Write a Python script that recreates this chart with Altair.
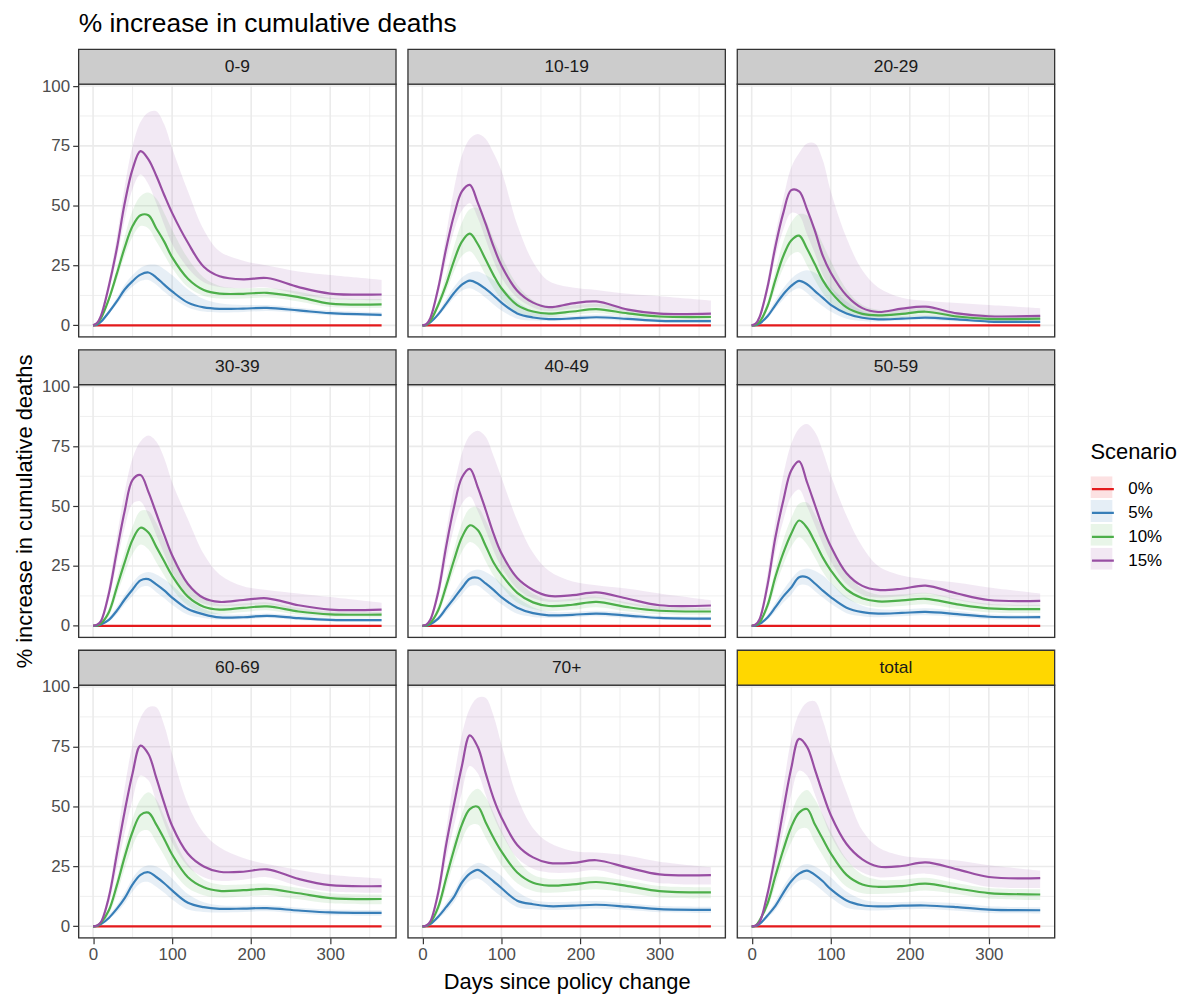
import altair as alt
import pandas as pd

FONT = "Liberation Sans"

# ---------------- data ----------------
DAYS = [0, 5, 10, 20, 30, 40, 50, 60, 70, 80, 90, 100, 120, 140, 160, 190, 220, 260, 300, 365]
SCENARIOS = ["0%", "5%", "10%", "15%"]
PANELS = ["0-9", "10-19", "20-29", "30-39", "40-49", "50-59", "60-69", "70+", "total"]
X_MAJOR = [0, 100, 200, 300]
X_MINOR = [50, 150, 250, 350]
Y_MAJOR = [0, 25, 50, 75, 100]
Y_MINOR = [12.5, 37.5, 62.5, 87.5]
ZERO = [0, 0, 0, 0, 0, 0, 0, 0, 0, 0, 0, 0, 0, 0, 0, 0, 0, 0, 0, 0]

# 0-9
g09_m15 = [0, 1, 4, 16.5, 32, 51, 65.3, 72.8, 69.4, 62.5, 54.5, 47, 34.5, 24.5, 20.5, 19.2, 19.8, 16, 13.3, 12.9]
g09_h15 = [0, 1.5, 5.5, 19, 37, 58, 75, 85, 89, 89.5, 84, 74, 56, 40, 31, 27, 25, 22.5, 21, 19]
g09_l15 = [0, 0.8, 3.5, 14, 28, 44, 57, 63, 59, 51, 42, 34, 24, 18, 16, 15.5, 15.8, 13, 11, 10.5]
g09_m10 = [0, 0.7, 3, 11, 21.5, 32.5, 41.5, 46, 46, 40.5, 35, 28.5, 19.5, 14.8, 13.3, 13.2, 13.6, 11.8, 9.1, 8.75]
g09_h10 = [0, 1, 3.5, 12, 24, 37, 48, 54, 55.5, 53, 47, 40, 28, 20, 16.5, 15.5, 15.6, 14, 11.5, 11]
g09_l10 = [0, 0.5, 2.5, 10, 19, 29, 37, 41.5, 40.5, 35, 29.5, 24, 16, 12.3, 11.2, 11.2, 11.6, 10, 7.7, 7.3]
g09_m5 = [0, 0.3, 1.5, 5.5, 10, 15, 18.5, 21.2, 22.1, 20, 17, 14.2, 9.5, 7.5, 6.9, 7, 7.3, 6.25, 5.1, 4.4]
g09_h5 = [0, 0.4, 1.8, 6.2, 11.5, 17, 21, 24, 25.3, 25.3, 23.5, 21, 15, 11, 9.2, 8.5, 8.5, 7.4, 6.2, 5.5]
g09_l5 = [0, 0.2, 1.2, 4.8, 8.8, 13, 16.2, 18.5, 19, 17, 14, 11.5, 7.5, 5.8, 5.4, 5.6, 6, 5.2, 4.2, 3.6]

# 10-19
g1019_m15 = [0, 0.5, 3, 15.5, 32, 46, 56, 58.7, 51.3, 42.5, 33, 25, 14.5, 9.5, 7.6, 9.2, 10, 6.6, 4.9, 4.9]
g1019_h15 = [0, 0.6, 3.5, 18, 38, 57, 71, 78, 80, 78, 72, 64.6, 42, 26.5, 18.5, 15.8, 14.8, 13.2, 12.2, 10.4]
g1019_l15 = [0, 0.4, 2.5, 13, 27, 39.5, 48, 51, 45, 36, 27, 20, 11.5, 7.5, 6, 7, 7.8, 5.5, 4, 3.8]
g1019_m10 = [0, 0.3, 1.8, 8.5, 17, 27, 35, 38.3, 34, 27.5, 21, 15.5, 8.5, 5.8, 4.9, 5.8, 6.8, 5, 3.7, 3.5]
g1019_h10 = [0, 0.4, 2.3, 10.5, 21, 33, 43, 48.5, 49, 44, 36, 29, 17, 10.5, 8, 8.3, 9, 7, 5.5, 5]
g1019_l10 = [0, 0.2, 1.4, 7, 14, 22.5, 29, 31, 27, 21, 15.5, 11, 5.5, 3.8, 3.5, 4.4, 5.2, 3.7, 2.6, 2.4]
g1019_m5 = [0, 0.2, 1.2, 4.6, 9, 13.5, 17, 18.7, 17.5, 15.2, 12.5, 9.5, 5, 3.3, 2.6, 2.9, 3.4, 2.7, 1.9, 1.8]
g1019_h5 = [0, 0.3, 1.5, 5.5, 11, 16, 20, 22, 22.5, 21, 19, 16, 10, 6, 4.3, 4, 4.5, 3.8, 2.8, 2.6]
g1019_l5 = [0, 0.1, 0.9, 3.8, 7.5, 11.5, 14.5, 15.5, 14, 11.5, 8.7, 6.2, 2.8, 2, 1.8, 2.1, 2.5, 1.9, 1.2, 1.1]

# 20-29
g2029_m15 = [0, 0.7, 3.5, 16, 33, 47, 56.5, 56, 48.5, 39.5, 29, 22, 12.5, 7.2, 5.6, 7, 7.8, 5, 3.8, 4]
g2029_h15 = [0, 0.9, 4.5, 19, 38, 53, 66, 72, 76, 76, 69, 56, 36.5, 23, 15.8, 11.5, 10.3, 9.4, 8.5, 7.2]
g2029_l15 = [0, 0.5, 2.8, 13.5, 28.5, 40, 47, 46, 38, 30, 21, 15.5, 7.5, 4.2, 3.5, 4.5, 5.2, 3.2, 2.2, 2.3]
g2029_m10 = [0, 0.3, 1.5, 8, 19, 29, 35.5, 37.5, 32, 25.5, 18.8, 14, 7.5, 4.8, 4.2, 4.8, 5.7, 3.7, 2.7, 2.8]
g2029_h10 = [0, 0.4, 2, 10, 23, 35, 43, 46.5, 46, 41, 34, 27, 15, 8.5, 6.5, 6.5, 7.3, 5.5, 4.5, 4.3]
g2029_l10 = [0, 0.2, 1, 6.5, 15.5, 24, 29.5, 30.5, 25, 19, 13.5, 9.5, 4.5, 2.8, 2.6, 3.3, 4, 2.5, 1.6, 1.8]
g2029_m5 = [0, 0.1, 0.8, 3.8, 8.5, 13, 16.5, 18.6, 17.2, 14.3, 11.5, 8.6, 5, 3.2, 2.5, 2.8, 3.2, 2.5, 1.6, 1.5]
g2029_h5 = [0, 0.2, 1.1, 5, 10.5, 15.5, 19.5, 22, 23, 22, 19.5, 16, 10, 6, 4, 3.8, 4.2, 3.5, 2.4, 2.3]
g2029_l5 = [0, 0.1, 0.6, 3, 7, 10.8, 14, 15.5, 13.5, 10.5, 8, 5.8, 2.8, 1.8, 1.6, 2, 2.4, 1.7, 1, 0.9]

# 30-39
g3039_m15 = [0, 0.5, 2, 13.5, 31, 48, 61, 63, 56, 47, 38, 29.5, 17.5, 11.6, 10, 10.8, 11.5, 8.6, 6.8, 6.8]
g3039_h15 = [0, 0.8, 3, 17, 37, 56, 70, 77, 79.5, 77, 70, 60, 44.5, 30, 21.5, 16.5, 15, 13.5, 12, 9.6]
g3039_l15 = [0, 0.3, 1.5, 11, 26, 41, 51, 52, 46, 38, 30, 22.5, 13, 9.2, 8.2, 8.5, 9, 6.5, 5, 4.8]
g3039_m10 = [0, 0.2, 1, 5.7, 16, 26.5, 36, 41, 39, 33, 27, 21, 12.2, 8, 6.8, 7.5, 8.1, 6, 4.8, 4.7]
g3039_h10 = [0, 0.3, 1.4, 7.5, 19.5, 31, 41.5, 48, 48, 43, 36, 29, 18, 11.5, 9, 9.3, 9.8, 7.5, 6, 5.8]
g3039_l10 = [0, 0.1, 0.6, 4, 13, 22, 30, 34, 32, 26.5, 21, 15.5, 8.5, 5.5, 5, 5.8, 6.5, 4.6, 3.6, 3.5]
g3039_m5 = [0, 0.1, 0.6, 2.5, 6.3, 11, 15.2, 19, 19.5, 17.3, 14.8, 11.8, 7, 4.8, 3.5, 3.6, 4.2, 3.2, 2.5, 2.4]
g3039_h5 = [0, 0.2, 0.9, 3.5, 8, 13, 18, 21.5, 22.5, 21.5, 19.5, 17, 11, 7, 5, 4.7, 5.2, 4.3, 3.3, 3]
g3039_l5 = [0, 0.05, 0.4, 1.8, 4.8, 9, 12.5, 16, 16.5, 14, 11.5, 8.8, 4.6, 3.3, 2.6, 2.7, 3.3, 2.4, 1.8, 1.7]

# 40-49
g4049_m15 = [0, 0.5, 2.5, 14, 33, 49.6, 62, 65.6, 58, 48.5, 38.5, 30.3, 20, 15, 12.5, 12.8, 14, 11.3, 8.6, 8.5]
g4049_h15 = [0, 0.8, 3.5, 18, 39, 58, 72, 79.5, 81.5, 79, 71, 62, 44, 30.5, 23, 18.5, 17, 15.5, 13.5, 10.7]
g4049_l15 = [0, 0.3, 1.8, 11.5, 27, 41, 51, 54, 48, 40, 31.5, 24.5, 15.5, 11.5, 10, 10.5, 11.5, 9, 6.8, 6.7]
g4049_m10 = [0, 0.2, 1.2, 6.5, 16.5, 27.4, 37, 42, 40, 33.5, 26.5, 21.5, 13.8, 9.8, 8.3, 8.8, 10, 7.8, 6.3, 6]
g4049_h10 = [0, 0.3, 1.6, 8.5, 20, 32, 43, 49, 49.5, 44, 37, 30, 19.5, 13.5, 11, 11.3, 12.2, 9.8, 8, 7.5]
g4049_l10 = [0, 0.1, 0.8, 5, 13.5, 23, 31, 35, 33, 27, 21, 16.5, 9.8, 7, 6.2, 6.7, 7.8, 6, 4.8, 4.6]
g4049_m5 = [0, 0.1, 0.7, 3, 7.3, 11.5, 15.8, 19.7, 20.1, 17.7, 15, 12, 7.6, 5.3, 4.4, 4.6, 5.1, 4.3, 3.3, 3]
g4049_h5 = [0, 0.2, 1, 4, 9, 14, 19, 22.5, 23.5, 22.5, 20.5, 17.5, 11.8, 7.8, 6, 5.8, 6.3, 5.5, 4.2, 3.8]
g4049_l5 = [0, 0.05, 0.5, 2.2, 5.6, 9.3, 13, 16.5, 16.8, 14.3, 11.5, 9, 5, 3.7, 3.3, 3.6, 4, 3.3, 2.5, 2.3]

# 50-59
g5059_m15 = [0, 0.6, 2.8, 17, 37, 52.4, 64.9, 68.7, 60, 50.5, 41, 33.3, 22, 16.7, 15, 15.5, 16.8, 13.5, 10.8, 10.4]
g5059_h15 = [0, 1, 4.2, 22, 44, 63, 76, 82.5, 84.3, 81, 73, 63, 46, 33, 25, 21, 19.5, 18, 16, 13.5]
g5059_l15 = [0, 0.4, 2, 14, 31, 44, 54, 57, 50, 42, 34, 27, 17.5, 13, 11.8, 12.5, 13.5, 10.8, 8.7, 8.3]
g5059_m10 = [0, 0.3, 1.5, 8.5, 20.5, 30.5, 38.5, 44, 41, 35, 28.5, 23.2, 15.2, 11.5, 10.2, 10.6, 11.3, 9, 7.3, 7]
g5059_h10 = [0, 0.4, 2, 10.5, 24, 36, 45, 51, 51.5, 46.5, 40, 33, 22, 15.5, 13, 13.2, 13.8, 11.2, 9.2, 8.8]
g5059_l10 = [0, 0.2, 1, 6.5, 16.5, 25.5, 33, 37, 34, 28.5, 22.5, 18, 11.5, 8.8, 7.8, 8.3, 9, 7, 5.6, 5.4]
g5059_m5 = [0, 0.1, 0.8, 3.5, 7.8, 12.3, 16, 20.3, 20.3, 17.7, 14.7, 12, 7.6, 5.7, 5.1, 5.4, 5.8, 4.9, 3.8, 3.6]
g5059_h5 = [0, 0.2, 1.1, 4.5, 9.8, 15, 19.5, 23, 24, 23, 21, 18, 12, 8.4, 7, 6.8, 7.3, 6.2, 4.8, 4.5]
g5059_l5 = [0, 0.05, 0.5, 2.5, 6, 9.7, 13, 17, 17, 14.5, 11.8, 9.3, 5.3, 4, 3.6, 4, 4.4, 3.7, 2.8, 2.7]

# 60-69
g6069_m15 = [0, 0.3, 1.8, 12.2, 30, 48, 64, 75.5, 72, 62, 51.5, 42, 30.3, 25, 22.8, 22.8, 23.8, 19.8, 17.2, 16.8]
g6069_h15 = [0, 0.5, 2.5, 15, 36, 58, 76, 87, 91.5, 91.5, 84, 72, 51, 39, 33, 28.5, 26, 23.5, 21.5, 19.9]
g6069_l15 = [0, 0.2, 1.3, 9.5, 24, 39, 53, 63, 61, 52, 43, 35, 25, 20.5, 19, 19.5, 20.5, 16.8, 14.5, 14]
g6069_m10 = [0, 0.2, 1.5, 6.7, 17, 29, 39.5, 46.5, 47.5, 42.5, 36.5, 30, 20.5, 16.3, 14.8, 15.1, 15.6, 13.8, 11.8, 11.4]
g6069_h10 = [0, 0.3, 2, 8, 20, 33, 45, 53, 56, 53, 46, 38.5, 26, 19.5, 17.5, 17.5, 17.8, 16, 13.8, 13.3]
g6069_l10 = [0, 0.1, 1, 5, 13.5, 24, 33.5, 39.5, 40, 35, 29.5, 23.5, 16, 13, 12, 12.4, 13, 11.3, 9.6, 9.2]
g6069_m5 = [0, 0.1, 0.9, 3.5, 7.3, 11.8, 17.5, 21.5, 22.6, 20.6, 18, 15, 9.8, 8, 7.3, 7.4, 7.6, 6.6, 5.8, 5.6]
g6069_h5 = [0, 0.2, 1.1, 4.8, 8.8, 14, 20, 24, 25.5, 25, 23, 20, 13.5, 10, 8.8, 8.6, 8.8, 7.8, 7, 6.8]
g6069_l5 = [0, 0.05, 0.6, 3, 5.8, 9.5, 14.5, 18, 18.5, 16.5, 14, 11.2, 7, 6, 5.8, 6, 6.3, 5.3, 4.6, 4.4]

# 70+
g70_m15 = [0, 0.3, 2, 14, 34, 51, 67, 79.8, 75, 64, 53.5, 45.5, 34, 28.8, 26.5, 26.5, 27.6, 24.5, 21.7, 21.4]
g70_h15 = [0, 0.5, 3, 17, 40, 62, 80, 91, 95.5, 95.5, 88, 76, 54, 41, 35, 31.5, 30.8, 29.5, 27, 24.7]
g70_l15 = [0, 0.2, 1.5, 11, 28, 42, 56, 67, 64, 55, 46, 39, 28.5, 24, 22.5, 22.5, 23.5, 20.5, 18, 17.5]
g70_m10 = [0, 0.2, 1.5, 8, 20, 32, 42.5, 49, 50, 43.5, 37, 31.3, 22.5, 18.2, 17, 17.5, 18.5, 16.8, 14.7, 14.2]
g70_h10 = [0, 0.3, 2, 9.5, 23, 36, 47, 55, 57.5, 54, 47.5, 40, 28, 21.5, 19.8, 20, 20.8, 19, 16.8, 16.3]
g70_l10 = [0, 0.1, 1, 6, 16, 27, 36, 42, 42.5, 37, 31, 25.5, 18, 14.8, 14, 14.6, 15.5, 14, 12, 11.7]
g70_m5 = [0, 0.1, 0.9, 4, 8, 12.3, 18.3, 22, 23.6, 21.5, 18.8, 16, 10.7, 9.2, 8.4, 8.6, 9, 8.2, 7.2, 6.9]
g70_h5 = [0, 0.2, 1.2, 5, 9.8, 14.5, 21, 24.8, 26.5, 25.5, 23.5, 21, 14.5, 11, 10.2, 10.3, 10.6, 9.6, 8.5, 8.2]
g70_l5 = [0, 0.05, 0.6, 3, 6.2, 10, 15.5, 19, 20, 18, 15, 12.5, 8, 7.2, 6.8, 7, 7.4, 6.8, 5.9, 5.6]

# total
gtot_m15 = [0, 0.3, 1.8, 13.6, 30, 48.5, 66, 78.3, 75, 65.5, 55.5, 46.5, 34.4, 28, 25, 25.2, 26.7, 23.8, 20.6, 20.1]
gtot_h15 = [0, 0.5, 2.5, 16, 36, 58, 78, 89, 93.5, 94, 86, 75, 56, 40, 33, 29.5, 28.5, 27.5, 25.5, 23.3]
gtot_l15 = [0, 0.2, 1.3, 11, 24.5, 40, 55, 65, 63, 55, 46, 38, 27.5, 22.5, 20.5, 21, 22, 19.5, 16.5, 16]
gtot_m10 = [0, 0.3, 2.5, 9.5, 21, 32, 41.5, 47.5, 49, 42.5, 36.5, 30.5, 21.5, 17.5, 16.5, 16.8, 17.8, 15.8, 13.9, 13.3]
gtot_h10 = [0, 0.4, 3, 11.5, 24, 36, 47, 54.5, 57, 53, 46.5, 39.5, 28, 21.5, 19.5, 19.5, 20.3, 18, 16, 15.5]
gtot_l10 = [0, 0.2, 2, 7.5, 17, 27, 35, 40.5, 41, 35, 29.5, 24, 16.5, 13.8, 13.5, 14, 15, 13.5, 11.6, 11]
gtot_m5 = [0, 0.1, 1, 4.5, 8.5, 14, 18.8, 22, 23.3, 21.5, 18.8, 15.5, 10.8, 8.8, 8.3, 8.6, 8.7, 8, 7, 6.7]
gtot_h5 = [0, 0.2, 1.3, 5.5, 10.5, 16.5, 21.5, 24.8, 26, 25, 23, 20.5, 14.5, 11.2, 10.2, 10.2, 10.3, 9.6, 8.4, 8]
gtot_l5 = [0, 0.05, 0.7, 3.5, 6.8, 11.5, 16, 19, 19.5, 17.5, 14.8, 12, 7.8, 6.8, 6.6, 7, 7.2, 6.5, 5.6, 5.4]

SERIES = {
    "0-9": {"5%": (g09_l5, g09_m5, g09_h5), "10%": (g09_l10, g09_m10, g09_h10), "15%": (g09_l15, g09_m15, g09_h15)},
    "10-19": {"5%": (g1019_l5, g1019_m5, g1019_h5), "10%": (g1019_l10, g1019_m10, g1019_h10), "15%": (g1019_l15, g1019_m15, g1019_h15)},
    "20-29": {"5%": (g2029_l5, g2029_m5, g2029_h5), "10%": (g2029_l10, g2029_m10, g2029_h10), "15%": (g2029_l15, g2029_m15, g2029_h15)},
    "30-39": {"5%": (g3039_l5, g3039_m5, g3039_h5), "10%": (g3039_l10, g3039_m10, g3039_h10), "15%": (g3039_l15, g3039_m15, g3039_h15)},
    "40-49": {"5%": (g4049_l5, g4049_m5, g4049_h5), "10%": (g4049_l10, g4049_m10, g4049_h10), "15%": (g4049_l15, g4049_m15, g4049_h15)},
    "50-59": {"5%": (g5059_l5, g5059_m5, g5059_h5), "10%": (g5059_l10, g5059_m10, g5059_h10), "15%": (g5059_l15, g5059_m15, g5059_h15)},
    "60-69": {"5%": (g6069_l5, g6069_m5, g6069_h5), "10%": (g6069_l10, g6069_m10, g6069_h10), "15%": (g6069_l15, g6069_m15, g6069_h15)},
    "70+": {"5%": (g70_l5, g70_m5, g70_h5), "10%": (g70_l10, g70_m10, g70_h10), "15%": (g70_l15, g70_m15, g70_h15)},
    "total": {"5%": (gtot_l5, gtot_m5, gtot_h5), "10%": (gtot_l10, gtot_m10, gtot_h10), "15%": (gtot_l15, gtot_m15, gtot_h15)},
}

# ---------------- styling ----------------
COLORS = ["#E41A1C", "#377EB8", "#4DAF4A", "#984EA3"]
# ribbon key values carry a trailing space so the ribbon legend is not merged into the line legend
FILL_KEYS = [s + " " for s in SCENARIOS]
STRIP_GREY = "#CCCCCC"
STRIP_GOLD = "#FFD700"
BORDER = "#333333"
W, H, SH = 319, 254, 35
LX, LY = 1017, 360
TITLE_PAD = 14
CURVE = "catmull-rom"

XSCALE = alt.Scale(domain=[-18.25, 383.25], nice=False, zero=False)
YSCALE = alt.Scale(domain=[-4.8, 100.8], nice=False, zero=False)

LEG_COMMON = dict(
    orient="none", legendX=LX,
    labelFont=FONT, labelFontSize=17, symbolSize=484, clipHeight=22,
    rowPadding=2, labelOffset=13, padding=0,
)
STROKE_LEGEND = alt.Legend(symbolType="stroke", symbolStrokeWidth=2.2, legendY=LY,
                           title="Scenario", titleFontSize=22, titleFontWeight="normal", titleFont=FONT,
                           titlePadding=TITLE_PAD, titleColor="#000000", labelColor="#000000", **LEG_COMMON)
# pale key squares behind the line keys (no text of their own)
FILL_LEGEND = alt.Legend(symbolType="square", symbolOpacity=0.13, symbolStrokeWidth=0,
                         legendY=LY + 22 + TITLE_PAD - 2, title=None, labelExpr="''", **LEG_COMMON)


def panel_frame(name):
    rows = []
    for sc, fk in zip(SCENARIOS, FILL_KEYS):
        if sc == "0%":
            lo, mid, hi = ZERO, ZERO, ZERO
        else:
            lo, mid, hi = SERIES[name][sc]
        for d, l, m, h in zip(DAYS, lo, mid, hi):
            rows.append({"day": d, "Scenario": sc, "Ribbon": fk, "lo": l, "mid": m, "hi": h})
    return pd.DataFrame(rows)


def make_panel(idx, name):
    row, col = divmod(idx, 3)
    if row == 2:
        xaxis = alt.Axis(values=X_MAJOR, grid=False, domain=False, tickSize=6, tickColor=BORDER,
                         tickWidth=1.2, labelColor="#4D4D4D", labelFontSize=17, labelFont=FONT,
                         labelPadding=3, labelFlush=False, titleFontSize=22, titleFont=FONT,
                         titleFontWeight="normal", titleColor="#000000", titlePadding=9)
    else:
        xaxis = None
    if col == 0:
        yaxis = alt.Axis(values=Y_MAJOR, grid=False, domain=False, tickSize=6, tickColor=BORDER,
                         tickWidth=1.2, labelColor="#4D4D4D", labelFontSize=17, labelFont=FONT,
                         labelPadding=3, labelFlush=False, titleFontSize=22, titleFont=FONT,
                         titleFontWeight="normal", titleColor="#000000", titlePadding=5)
    else:
        yaxis = None
    xtitle = "Days since policy change" if (row == 2 and col == 1) else None
    ytitle = "% increase in cumulative deaths" if (row == 1 and col == 0) else None

    def xenc(f):
        return alt.X(f + ":Q", scale=XSCALE, axis=xaxis, title=xtitle)

    def yenc(f):
        return alt.Y(f + ":Q", scale=YSCALE, axis=yaxis, title=ytitle, stack=None)

    df = panel_frame(name)
    gx_minor = alt.Chart(pd.DataFrame({"v": X_MINOR})).mark_rule(color="#EBEBEB", strokeWidth=0.8).encode(x=xenc("v"))
    gy_minor = alt.Chart(pd.DataFrame({"v": Y_MINOR})).mark_rule(color="#EBEBEB", strokeWidth=0.8).encode(y=yenc("v"))
    gx_major = alt.Chart(pd.DataFrame({"v": X_MAJOR})).mark_rule(color="#EBEBEB", strokeWidth=1.6).encode(x=xenc("v"))
    gy_major = alt.Chart(pd.DataFrame({"v": Y_MAJOR})).mark_rule(color="#EBEBEB", strokeWidth=1.6).encode(y=yenc("v"))
    area = alt.Chart(df).mark_area(interpolate=CURVE, fillOpacity=0.12, clip=True).encode(
        x=xenc("day"), y=yenc("lo"), y2=alt.Y2("hi"),
        fill=alt.Fill("Ribbon:N", scale=alt.Scale(domain=FILL_KEYS, range=COLORS), legend=FILL_LEGEND),
    )
    line = alt.Chart(df).mark_line(interpolate=CURVE, strokeWidth=2.2, clip=True).encode(
        x=xenc("day"), y=yenc("mid"),
        stroke=alt.Stroke("Scenario:N", scale=alt.Scale(domain=SCENARIOS, range=COLORS), legend=STROKE_LEGEND),
    )
    strip_df = pd.DataFrame({"label": [name]})
    strip_fill = STRIP_GOLD if name == "total" else STRIP_GREY
    border = alt.Chart(strip_df).mark_rect(fill="transparent", stroke=BORDER, strokeWidth=1.3).encode(
        x=alt.value(0), x2=alt.value(W), y=alt.value(0), y2=alt.value(H)
    )
    strip_box = alt.Chart(strip_df).mark_rect(fill=strip_fill, stroke=BORDER, strokeWidth=1.3).encode(
        x=alt.value(0), x2=alt.value(W), y=alt.value(-SH), y2=alt.value(0)
    )
    strip_txt = alt.Chart(strip_df).mark_text(
        fontSize=17.5, color="#1A1A1A", font=FONT, align="center", baseline="middle"
    ).encode(text="label:N", x=alt.value(W / 2), y=alt.value(-SH / 2))
    return alt.layer(gx_minor, gy_minor, gx_major, gy_major, area, line, border, strip_box, strip_txt).properties(
        width=W, height=H
    )


panels = [make_panel(i, n) for i, n in enumerate(PANELS)]
chart = alt.concat(
    *panels, columns=3, spacing=alt.RowColnumber(row=SH + 13, column=12), bounds="flush"
).properties(
    title=alt.TitleParams(text="% increase in cumulative deaths", anchor="start", frame="group",
                          fontSize=26.5, fontWeight="normal", color="#000000", font=FONT, offset=11),
    padding={"top": 0, "left": 5, "right": 5, "bottom": 5},
).configure_view(
    stroke=None, fill="#FFFFFF"
).configure(font=FONT, background="#FFFFFF")

chart.save("out.html", embed_options={"renderer": "svg", "actions": False})
